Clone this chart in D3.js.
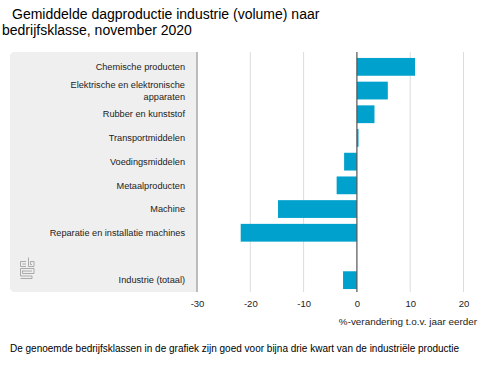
<!DOCTYPE html>
<html>
<head>
<meta charset="utf-8">
<script src="https://cdn.jsdelivr.net/npm/d3@7"></script>
<style>
  body { margin: 0; background: #fff; }
  text { font-family: "Liberation Sans", Arial, sans-serif; }
</style>
</head>
<body>
<div class="chart"></div>
<script>
const categories = [
  "Chemische producten",
  "Elektrische en elektronische apparaten",
  "Rubber en kunststof",
  "Transportmiddelen",
  "Voedingsmiddelen",
  "Metaalproducten",
  "Machine",
  "Reparatie en installatie machines",
  "Industrie (totaal)"
];
const values = [10.9, 5.8, 3.3, 0.3, -2.4, -3.8, -14.8, -21.8, -2.6];
const ticks = [-30, -20, -10, 0, 10, 20];
const titleLines = ["Gemiddelde dagproductie industrie (volume) naar", "bedrijfsklasse, november 2020"];
const axisTitle = "%-verandering t.o.v. jaar eerder";
const footnote = "De genoemde bedrijfsklassen in de grafiek zijn goed voor bijna drie kwart van de industriële productie";

const width = 500, height = 375;
const gap = "__gap";
const rows = categories.slice(0, 8).concat([gap], categories.slice(8));
const data = categories.map((c, i) => ({ name: c, value: values[i] }));

const svg = d3.select(".chart").append("svg")
  .attr("width", width)
  .attr("height", height);

// title
svg.append("text").attr("x", 12).attr("y", 19).attr("font-size", 14).attr("fill", "#000").text(titleLines[0]);
svg.append("text").attr("x", 2).attr("y", 35).attr("font-size", 14).attr("fill", "#000").text(titleLines[1]);

const x = d3.scaleLinear().domain([-30, 20]).range([197, 463.5]);
const y = d3.scaleBand().domain(rows).range([55, 292]).paddingInner(0.25).paddingOuter(0.125);

// grey label panel
const panelTop = 52, panelBottom = 292, panelLeft = 10;
svg.append("path")
  .attr("fill", "#efefef")
  .attr("d", `M${x(-30)},${panelTop} H${panelLeft + 5} Q${panelLeft},${panelTop} ${panelLeft},${panelTop + 5}
    V${panelBottom - 5} Q${panelLeft},${panelBottom} ${panelLeft + 5},${panelBottom} H${x(-30)} Z`);

// gridlines
svg.append("g")
  .attr("class", "grid")
  .selectAll("line")
  .data(ticks.filter(t => t !== 0 && t !== -30))
  .join("line")
  .attr("x1", d => x(d)).attr("x2", d => x(d))
  .attr("y1", panelTop).attr("y2", panelBottom)
  .attr("stroke", "#dcdcdc");

svg.append("line")
  .attr("x1", x(-30)).attr("x2", x(-30))
  .attr("y1", panelTop).attr("y2", panelBottom)
  .attr("stroke", "#a8a8a8").attr("stroke-width", 1.5);

// bars
svg.append("g")
  .selectAll("rect")
  .data(data)
  .join("rect")
  .attr("x", d => x(Math.min(0, d.value)))
  .attr("width", d => Math.abs(x(d.value) - x(0)))
  .attr("y", d => y(d.name))
  .attr("height", y.bandwidth())
  .attr("fill", "#00a1cd");

// zero line
svg.append("line")
  .attr("x1", x(0)).attr("x2", x(0))
  .attr("y1", panelTop).attr("y2", panelBottom)
  .attr("stroke", "#555").attr("stroke-width", 1.2);

// category labels
const labelX = 185, fs = 9.2;
const measure = svg.append("text").attr("font-size", fs).attr("visibility", "hidden");
function wrapLines(str, maxW) {
  const words = str.split(" ");
  const lines = [];
  let line = [];
  words.forEach(w => {
    line.push(w);
    measure.text(line.join(" "));
    if (measure.node().getComputedTextLength() > maxW && line.length > 1) {
      line.pop();
      lines.push(line.join(" "));
      line = [w];
    }
  });
  lines.push(line.join(" "));
  return lines;
}

svg.append("g")
  .selectAll("text")
  .data(data)
  .join("text")
  .attr("text-anchor", "end")
  .attr("font-size", fs)
  .attr("fill", "#222")
  .each(function (d) {
    const lines = wrapLines(d.name, 140);
    const cy = y(d.name) + y.bandwidth() / 2;
    const lh = 11.7;
    const start = cy - (lines.length - 1) * lh / 2;
    d3.select(this).selectAll("tspan")
      .data(lines)
      .join("tspan")
      .attr("x", labelX)
      .attr("y", (l, i) => start + i * lh)
      .attr("dy", "0.35em")
      .text(l => l);
  });
measure.remove();

// x axis
const xAxis = d3.axisBottom(x).tickValues(ticks).tickSize(0).tickPadding(0).tickFormat(d3.format("d"));
svg.append("g")
  .attr("transform", `translate(0,${panelBottom + 8})`)
  .call(xAxis)
  .call(g => g.select(".domain").remove())
  .call(g => g.selectAll("text")
    .attr("font-family", "Liberation Sans, Arial, sans-serif")
    .attr("font-size", 9.5)
    .attr("fill", "#222")
    .text(d => d < 0 ? "-" + Math.abs(d) : d));

svg.append("text")
  .attr("x", 477).attr("y", 325)
  .attr("text-anchor", "end")
  .attr("font-size", 9.9)
  .attr("fill", "#222")
  .text(axisTitle);

// cbs logo
const logo = svg.append("g")
  .attr("transform", "translate(20,257)")
  .attr("fill", "none")
  .attr("stroke", "#999")
  .attr("stroke-width", 0.8);
logo.append("path").attr("d", "M0.5,4.5 H6 M0.5,4.5 V9.5 H6 M2.5,7 H6 M8.5,0.5 V9.5 H14 V4.5 H10.5 M10.5,4.5 V7.5 H12");
logo.append("path").attr("d", "M0.5,11.5 H14 V16.5 H2.5 V14 H12 M0.5,11.5 V19 H12 V21.5 H0.5 M2.5,14 V13.5");

// footnote
svg.append("text")
  .attr("x", 10).attr("y", 352)
  .attr("font-size", 10)
  .attr("fill", "#000")
  .text(footnote);
</script>
</body>
</html>
